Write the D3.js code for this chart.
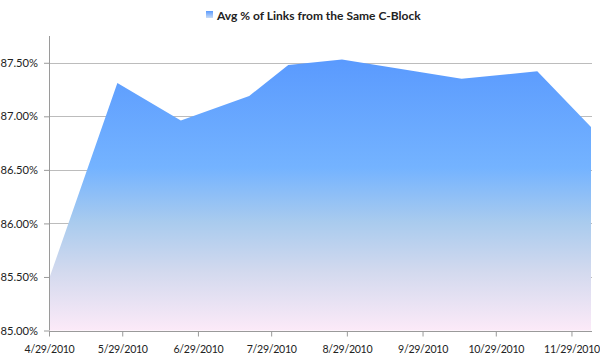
<!DOCTYPE html>
<html>
<head>
<meta charset="utf-8">
<script src="https://cdn.jsdelivr.net/npm/d3@7"></script>
<style>
  body { margin: 0; background: #fff; }
  text { font-family: Lato, "Open Sans", sans-serif; fill: #222; }
</style>
</head>
<body>
<div id="chart"></div>
<script>
const WIDTH = 600;
const HEIGHT = 364;
const MARGIN = { TOP: 36, RIGHT: 8, BOTTOM: 33.5, LEFT: 49 };

// data
const dates = ["2010-04-29", "2010-05-27", "2010-06-22", "2010-07-20", "2010-08-05",
               "2010-08-27", "2010-10-15", "2010-11-15", "2010-12-07"];
const values = [85.48, 87.31, 86.96, 87.19, 87.48, 87.53, 87.35, 87.42, 86.90];
const yTicks = [85.0, 85.5, 86.0, 86.5, 87.0, 87.5];
const xTicks = ["2010-04-29", "2010-05-29", "2010-06-29", "2010-07-29", "2010-08-29",
                "2010-09-29", "2010-10-29", "2010-11-29"];
const seriesName = "Avg % of Links from the Same C-Block";

const parse = d3.timeParse("%Y-%m-%d");
const data = dates.map((d, i) => ({ date: parse(d), value: values[i] }));

const x = d3.scaleTime()
    .domain([parse("2010-04-29"), parse("2010-12-07")])
    .range([MARGIN.LEFT, WIDTH - MARGIN.RIGHT - 1]);
const y = d3.scaleLinear()
    .domain([85, 87.75])
    .range([HEIGHT - MARGIN.BOTTOM, MARGIN.TOP]);

const svg = d3.select("#chart").append("svg")
    .attr("width", WIDTH)
    .attr("height", HEIGHT);

const defs = svg.append("defs");
const grad = defs.append("linearGradient")
    .attr("id", "fill")
    .attr("gradientUnits", "userSpaceOnUse")
    .attr("x1", 0).attr("x2", 0)
    .attr("y1", y(87.53)).attr("y2", y(85));
[[0, "#5a9afe"], [0.4, "#74b3ff"], [0.6, "#a9cbee"], [0.78, "#d2d9ee"], [1, "#fceaf8"]]
  .forEach(s => grad.append("stop").attr("offset", s[0]).attr("stop-color", s[1]));

const legendSwatch = defs.append("linearGradient")
    .attr("id", "swatch").attr("x1", 0).attr("x2", 0).attr("y1", 0).attr("y2", 1);
legendSwatch.append("stop").attr("offset", 0).attr("stop-color", "#5a9afe");
legendSwatch.append("stop").attr("offset", 1).attr("stop-color", "#c9dcf6");

// gridlines
svg.append("g")
    .selectAll("line")
    .data(yTicks.slice(1))
    .enter().append("line")
    .attr("x1", MARGIN.LEFT)
    .attr("x2", WIDTH - MARGIN.RIGHT)
    .attr("y1", d => Math.round(y(d)) + 0.5)
    .attr("y2", d => Math.round(y(d)) + 0.5)
    .attr("stroke", "#bcbcbc");

const area = d3.area()
    .x(d => x(d.date))
    .y0(y(85))
    .y1(d => y(d.value));

svg.append("path")
    .datum(data)
    .attr("d", area)
    .attr("fill", "url(#fill)");

// y axis
const yAxis = svg.append("g")
    .attr("transform", `translate(${MARGIN.LEFT},0)`)
    .call(d3.axisLeft(y).tickValues(yTicks).tickSize(5).tickPadding(6)
      .tickFormat(d => d3.format(".2f")(d) + "%"));
yAxis.select(".domain").attr("stroke", "#9a9a9a").attr("d", `M0.5,${MARGIN.TOP}V${y(85)}`);
yAxis.selectAll(".tick line").attr("stroke", "#9a9a9a");
yAxis.selectAll(".tick text").attr("font-size", 11.2).attr("fill", "#222");

// x axis
const xAxis = svg.append("g")
    .attr("transform", `translate(0,${Math.round(y(85)) + 0.5})`)
    .call(d3.axisBottom(x).tickValues(xTicks.map(parse)).tickSize(5).tickSizeOuter(0)
      .tickPadding(9).tickFormat(d3.timeFormat("%-m/%-d/%Y")));
xAxis.select(".domain").attr("stroke", "#9a9a9a").attr("d", `M${MARGIN.LEFT},0H${WIDTH - MARGIN.RIGHT}`);
xAxis.selectAll(".tick line").attr("stroke", "#9a9a9a");
xAxis.selectAll(".tick text")
    .attr("font-size", 10.6)
    .attr("letter-spacing", -0.3)
    .attr("fill", "#222");

// legend
const legend = svg.append("g");
legend.append("rect")
    .attr("x", 206).attr("y", 11)
    .attr("width", 7).attr("height", 7)
    .attr("fill", "url(#swatch)");
legend.append("text")
    .attr("x", 217).attr("y", 19.5)
    .attr("font-size", 12)
    .attr("font-weight", "bold")
    .text(seriesName);
</script>
</body>
</html>
